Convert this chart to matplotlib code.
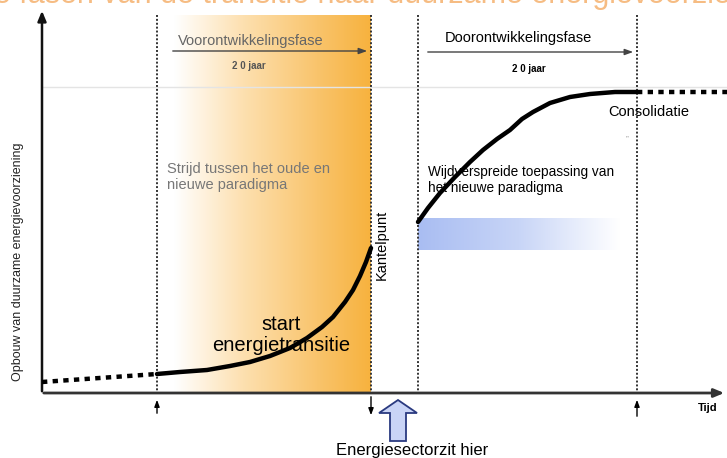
import numpy as np
import matplotlib
matplotlib.use("Agg")
import matplotlib.pyplot as plt
from matplotlib.patches import Polygon
from matplotlib.colors import LinearSegmentedColormap

plt.rcParams["font.family"] = ["Liberation Sans", "DejaVu Sans"]

# phase boundaries along the time axis
phase_x = [157, 371, 418, 637]

# early phase: slow start, then steep rise up to the tipping point
early_t = [157, 180, 207, 230, 250, 270, 290, 307, 322, 333, 345, 353, 360, 366, 371]
early_v = [374, 372, 370, 366, 362, 356, 348, 338, 327, 317, 302, 290, 276, 262, 248]

# later phase: broad uptake flattening towards consolidation
late_t = [418, 428, 440, 455, 470, 483, 497, 510, 522, 533, 550, 570, 590, 615, 637]
late_v = [222, 208, 193, 177, 162, 150, 139, 130, 119, 112, 103, 97, 94, 92, 92]

# dotted lead-in and tail
pre_t = [42, 157]
pre_v = [382, 374]
post_t = [637, 727]
post_v = [92, 92]

fig = plt.figure(figsize=(7.27, 4.58), dpi=100)
ax = fig.add_axes([0, 0, 1, 1])
ax.set_xlim(0, 727)
ax.set_ylim(458, 0)
ax.axis("off")

# title, running off the top edge
fig.text(0.5, 1 - 3 / 458, "Twee fasen van de transitie naar duurzame energievoorziening",
         color="#F09030", fontsize=22, ha="center", va="baseline", alpha=0.6)

# orange gradient over the pre-development phase
orange = LinearSegmentedColormap.from_list(
    "orange", [(0, "#ffffff"), (0.08, "#ffffff"), (0.4, "#fde0b0"), (0.75, "#f9c46c"), (1, "#f7b23e")])
grad = np.linspace(0, 1, 256).reshape(1, -1)
ax.imshow(grad, cmap=orange, extent=(phase_x[0], phase_x[1], 393, 15), aspect="auto", zorder=0)

# blue gradient band next to the tipping point
blue = LinearSegmentedColormap.from_list("blue", ["#a9bdf2", "#c8d5f7", "#ffffff"])
ax.imshow(grad, cmap=blue, extent=(418, 620, 250, 218), aspect="auto", zorder=0)

# light reference line
ax.plot([42, 727], [87, 87], color="#e4e4e4", lw=1, zorder=1)

# phase boundaries
for x in phase_x:
    ax.plot([x, x], [15, 393], color="#333333", lw=1.4, ls=(0, (1, 1)), zorder=2)

# axes with arrows
ax.annotate("", xy=(42, 8), xytext=(42, 394),
            arrowprops=dict(arrowstyle="-|>,head_length=0.6,head_width=0.25", color="#111111", lw=1.8))
ax.annotate("", xy=(727, 393), xytext=(41, 393),
            arrowprops=dict(arrowstyle="-|>,head_length=0.6,head_width=0.25", color="#333333", lw=2))

# transition curve
ax.plot(pre_t, pre_v, color="black", lw=3.2, ls=(0, (1.2, 1.2)), zorder=4)
ax.plot(early_t, early_v, color="black", lw=3.2, solid_capstyle="round", zorder=4)
ax.plot(late_t, late_v, color="black", lw=3.2, solid_capstyle="round", zorder=4)
ax.plot(post_t, post_v, color="black", lw=3.2, ls=(0, (1.2, 1.2)), zorder=4)

# phase arrows
arrow_kw = dict(arrowstyle="-|>,head_length=0.5,head_width=0.18", color="#444444", lw=1)
ax.annotate("", xy=(370, 51), xytext=(170, 51), arrowprops=arrow_kw)
ax.annotate("", xy=(636, 52), xytext=(425, 52), arrowprops=arrow_kw)
ax.text(178, 41, "Voorontwikkelingsfase", fontsize=10.5, color="#666666", va="center")
ax.text(445, 38, "Doorontwikkelingsfase", fontsize=10.5, color="black", va="center")
ax.text(232, 66, "2 0 jaar", fontsize=7, color="#555555", fontweight="bold", va="center")
ax.text(512, 69, "2 0 jaar", fontsize=7, color="black", fontweight="bold", va="center")

# annotations inside the chart
ax.text(167, 177, "Strijd tussen het oude en\nnieuwe paradigma", fontsize=10.5,
        color="#777777", va="center", linespacing=1.1)
ax.text(428, 180, "Wijdverspreide toepassing van\nhet nieuwe paradigma", fontsize=9.8,
        color="black", va="center", linespacing=1.15)
ax.text(608, 112, "Consolidatie", fontsize=10.5, color="black", va="center")
ax.text(626, 139, "\u201d", fontsize=6, color="#999999", va="center")
ax.text(281, 335, "start\nenergietransitie", fontsize=14.5, color="black", ha="center",
        va="center", linespacing=1.15)
ax.text(382, 245, "Kantelpunt", fontsize=10.5, rotation=90, ha="center", va="center")
ax.text(18, 262, "Opbouw van duurzame energievoorziening", fontsize=9,
        rotation=90, ha="center", va="center", color="#222222")
ax.text(708, 408, "Tijd", fontsize=8, fontweight="bold", ha="center", va="center")

# markers below the time axis
small_kw = dict(arrowstyle="-|>,head_length=0.4,head_width=0.15", color="black", lw=1)
ax.annotate("", xy=(157, 397), xytext=(157, 416), arrowprops=small_kw)
ax.annotate("", xy=(637, 397), xytext=(637, 419), arrowprops=small_kw)
ax.annotate("", xy=(371, 418), xytext=(371, 394), arrowprops=small_kw)

# hollow block arrow pointing at the tipping point
blk = Polygon([(398, 400), (417, 413), (406, 413), (406, 441), (390, 441), (390, 413), (379, 413)],
              closed=True, facecolor="#c9d4f6", edgecolor="#2a3a80", lw=1.3, zorder=3)
ax.add_patch(blk)
ax.text(412, 450, "Energiesectorzit hier", fontsize=12, ha="center", va="center")

fig.savefig("out.png", dpi=100)
